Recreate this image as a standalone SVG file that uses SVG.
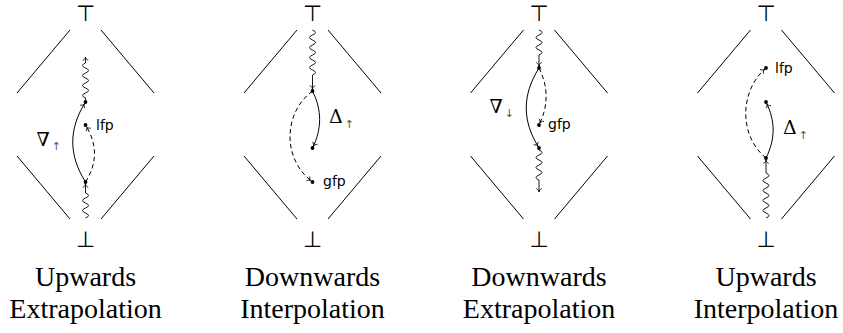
<svg xmlns="http://www.w3.org/2000/svg" width="843" height="333" viewBox="0 0 843 333">
<style>
.ln{stroke:#000;stroke-width:1;fill:none}
.ds{stroke:#000;stroke-width:1;fill:none;stroke-dasharray:4.5 3}
.wv{stroke:#000;stroke-width:0.9;fill:none}
.dot{fill:#000}
.sym{font-family:"DejaVu Sans",sans-serif;font-size:22px;text-anchor:middle;fill:#000}
.op{font-family:"DejaVu Serif","Liberation Serif",serif;font-size:19px;fill:#000}
.sub{font-family:"DejaVu Sans",sans-serif;font-size:11px;fill:#555}
.lb{font-family:"DejaVu Sans",sans-serif;font-size:14px;fill:#000}
.cap{font-family:"Liberation Serif","Times New Roman",serif;font-size:28px;text-anchor:middle;fill:#000}
</style>
<defs>
<marker id="ah" markerUnits="userSpaceOnUse" orient="auto" refX="2" refY="0" markerWidth="10" markerHeight="10" overflow="visible">
<path d="M-3.5 -2.8 C-2.8 -1 -1.2 -0.2 0 0 C-1.2 0.2 -2.8 1 -3.5 2.8" stroke="#000" stroke-width="0.8" fill="none"/>
</marker>
<marker id="at" markerUnits="userSpaceOnUse" orient="auto" refX="0" refY="0" markerWidth="10" markerHeight="10" overflow="visible">
<path d="M-3.5 -2.8 C-2.8 -1 -1.2 -0.2 0 0 C-1.2 0.2 -2.8 1 -3.5 2.8" stroke="#000" stroke-width="0.8" fill="none"/>
</marker>
</defs>

<!-- Panel 1: Upwards Extrapolation -->
<g id="panel1" transform="translate(85.5,0)">
<g id="p1-lattice">
<path class="ln" d="M-15.5 30 L-68.5 93 M15.5 30 L68.5 93 M-68.5 156 L-15.5 219 M68.5 156 L15.5 219"/>
</g>
<g id="p1-top"><text class="sym" x="0" y="21">⊤</text></g>
<g id="p1-bot"><text class="sym" x="0" y="247">⊥</text></g>
<g id="p1-connectors">
<path class="wv" marker-end="url(#at)" d="M0 100 v-2 q-6 -2.5 0 -5 t0 -5 t0 -5 t0 -5 t0 -5 t0 -5 t0 -5 V57"/>
<path class="wv" marker-end="url(#ah)" d="M0 218 q6 -2.5 0 -5 t0 -5 t0 -5 t0 -5 t0 -5 V182"/>
<path class="ln" marker-end="url(#ah)" d="M0 182 C-17 155 -17 129 0 102"/>
<path class="ds" marker-end="url(#ah)" d="M0 182 C12 163 12 144 0 125"/>
</g>
<g id="p1-n-top"><circle class="dot" cx="0" cy="102" r="1.9"/></g>
<g id="p1-n-lfp"><circle class="dot" cx="0" cy="125" r="1.9"/><text class="lb" x="10.5" y="130">lfp</text></g>
<g id="p1-n-bot"><circle class="dot" cx="0" cy="182" r="1.9"/></g>
<g id="p1-op"><text class="op" x="-49" y="146">∇<tspan class="sub" dx="2" dy="4">↑</tspan></text></g>
<g id="p1-caption"><text class="cap" x="0" y="286">Upwards</text><text class="cap" x="0" y="318">Extrapolation</text></g>
</g>

<!-- Panel 2: Downwards Interpolation -->
<g id="panel2" transform="translate(312.5,0)">
<g id="p2-lattice">
<path class="ln" d="M-15.5 30 L-68.5 93 M15.5 30 L68.5 93 M-68.5 156 L-15.5 219 M68.5 156 L15.5 219"/>
</g>
<g id="p2-top"><text class="sym" x="0" y="21">⊤</text></g>
<g id="p2-bot"><text class="sym" x="0" y="247">⊥</text></g>
<g id="p2-connectors">
<path class="wv" marker-end="url(#ah)" d="M0 30 q6 2.5 0 5 t0 5 t0 5 t0 5 t0 5 t0 5 t0 5 t0 5 t0 5 V91"/>
<path class="ln" marker-end="url(#ah)" d="M0 91 C9.5 110 9.5 129 0 148"/>
<path class="ds" marker-end="url(#ah)" d="M0 91 C-28.5 112 -31.5 158 0 182"/>
</g>
<g id="p2-n-top"><circle class="dot" cx="0" cy="91" r="1.9"/></g>
<g id="p2-n-mid"><circle class="dot" cx="0" cy="148" r="1.9"/></g>
<g id="p2-n-gfp"><circle class="dot" cx="0" cy="182" r="1.9"/><text class="lb" x="10.5" y="186">gfp</text></g>
<g id="p2-op"><text class="op" x="16.5" y="123">Δ<tspan class="sub" dx="2" dy="5">↑</tspan></text></g>
<g id="p2-caption"><text class="cap" x="0" y="286">Downwards</text><text class="cap" x="0" y="318">Interpolation</text></g>
</g>

<!-- Panel 3: Downwards Extrapolation -->
<g id="panel3" transform="translate(539,0)">
<g id="p3-lattice">
<path class="ln" d="M-15.5 30 L-68.5 93 M15.5 30 L68.5 93 M-68.5 156 L-15.5 219 M68.5 156 L15.5 219"/>
</g>
<g id="p3-top"><text class="sym" x="0" y="21">⊤</text></g>
<g id="p3-bot"><text class="sym" x="0" y="247">⊥</text></g>
<g id="p3-connectors">
<path class="wv" marker-end="url(#ah)" d="M0 30 q6 2.5 0 5 t0 5 t0 5 t0 5 t0 5 V68"/>
<path class="wv" marker-end="url(#at)" d="M0 150 q6 2.5 0 5 t0 5 t0 5 t0 5 t0 5 t0 5 V192"/>
<path class="ln" marker-end="url(#ah)" d="M0 68 C-17 95 -17 121 0 148"/>
<path class="ds" marker-end="url(#ah)" d="M0 68 C9.5 87 9.5 106 0 125"/>
</g>
<g id="p3-n-top"><circle class="dot" cx="0" cy="68" r="1.9"/></g>
<g id="p3-n-gfp"><circle class="dot" cx="0" cy="125" r="1.9"/><text class="lb" x="9" y="129">gfp</text></g>
<g id="p3-n-bot"><circle class="dot" cx="0" cy="148" r="1.9"/></g>
<g id="p3-op"><text class="op" x="-49.5" y="113">∇<tspan class="sub" dx="2" dy="4">↓</tspan></text></g>
<g id="p3-caption"><text class="cap" x="0" y="286">Downwards</text><text class="cap" x="0" y="318">Extrapolation</text></g>
</g>

<!-- Panel 4: Upwards Interpolation -->
<g id="panel4" transform="translate(766,0)">
<g id="p4-lattice">
<path class="ln" d="M-15.5 30 L-68.5 93 M15.5 30 L68.5 93 M-68.5 156 L-15.5 219 M68.5 156 L15.5 219"/>
</g>
<g id="p4-top"><text class="sym" x="0" y="21">⊤</text></g>
<g id="p4-bot"><text class="sym" x="0" y="247">⊥</text></g>
<g id="p4-connectors">
<path class="wv" marker-end="url(#ah)" d="M0 218 q6 -2.5 0 -5 t0 -5 t0 -5 t0 -5 t0 -5 t0 -5 t0 -5 t0 -5 t0 -5 V158"/>
<path class="ln" marker-end="url(#ah)" d="M0 158 C9.5 139 9.5 121 0 102"/>
<path class="ds" marker-end="url(#ah)" d="M0 158 C-28 135 -26 90 0 68"/>
</g>
<g id="p4-n-lfp"><circle class="dot" cx="0" cy="68" r="1.9"/><text class="lb" x="9" y="73">lfp</text></g>
<g id="p4-n-mid"><circle class="dot" cx="0" cy="102" r="1.9"/></g>
<g id="p4-n-bot"><circle class="dot" cx="0" cy="158" r="1.9"/></g>
<g id="p4-op"><text class="op" x="17" y="134">Δ<tspan class="sub" dx="2" dy="5">↑</tspan></text></g>
<g id="p4-caption"><text class="cap" x="0" y="286">Upwards</text><text class="cap" x="0" y="318">Interpolation</text></g>
</g>
</svg>
